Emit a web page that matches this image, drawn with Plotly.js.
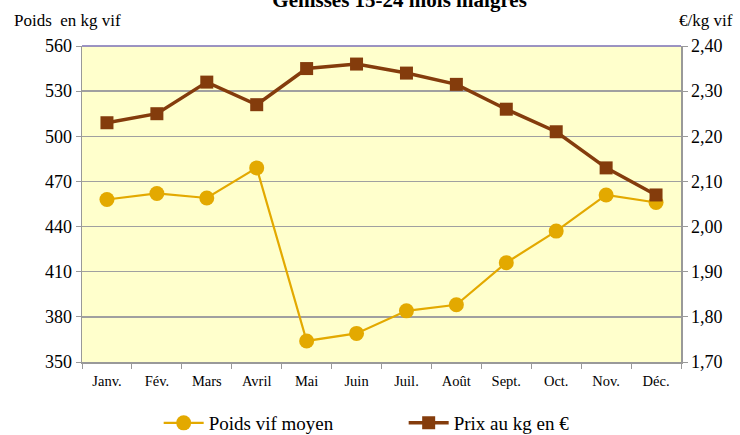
<!DOCTYPE html>
<html><head><meta charset="utf-8">
<script src="https://cdn.plot.ly/plotly-3.0.1.min.js"></script>
<style>body{margin:0;padding:0;background:#fff}#chart{width:740px;height:435px}</style>
</head><body><div id="chart"></div>
<script>
const months = ["Janv.","Fév.","Mars","Avril","Mai","Juin","Juil.","Août","Sept.","Oct.","Nov.","Déc."];
const poids = [458,462,459,479,364,369,384,388,416,437,461,456];
const prix = [2.23,2.25,2.32,2.27,2.35,2.36,2.34,2.315,2.26,2.21,2.13,2.07];
const poidsTicks = [350,380,410,440,470,500,530,560];
const prixTicks = [1.70,1.80,1.90,2.00,2.10,2.20,2.30,2.40];

const serif = "Liberation Serif";
const traces = [
 {x: months, y: poids, name: "Poids vif moyen", type: "scatter", mode: "lines+markers",
  line: {color: "#E3A900", width: 2.2}, marker: {symbol: "circle", size: 15, color: "#E3A900"}, yaxis: "y"},
 {x: months, y: prix, name: "Prix au kg en €", type: "scatter", mode: "lines+markers",
  line: {color: "#843C0C", width: 3.5}, marker: {symbol: "square", size: 13, color: "#843C0C"}, yaxis: "y2"}
];
const layout = {
 width: 740, height: 435,
 margin: {l: 82, r: 59, t: 46, b: 73, autoexpand: false},
 paper_bgcolor: "#ffffff", plot_bgcolor: "#FFFFCC",
 separators: ", ",
 font: {family: serif, color: "#000", size: 15},
 title: {text: "<b>Génisses 15-24 mois maigres</b>", font: {family: serif, size: 21, color: "#000"},
   x: 0.54, xanchor: "center", y: 1.0, yref: "container", yanchor: "middle", automargin: false},
 showlegend: true,
 legend: {orientation: "h", x: 0.128, xanchor: "left", y: -0.193, yanchor: "middle",
   font: {family: serif, size: 19, color: "#000"}, entrywidth: 190, itemwidth: 40},
 xaxis: {type: "category", tickson: "boundaries", ticks: "outside", ticklen: 5, tickcolor: "#999",
   showline: true, linecolor: "#999", linewidth: 1.5, showgrid: false, zeroline: false, automargin: false,
   ticklabelstandoff: 5,
   tickfont: {family: serif, size: 14.5, color: "#000"}, range: [-0.5, 11.5], fixedrange: true},
 yaxis: {range: [350, 560], tickvals: poidsTicks, ticks: "outside", ticklen: 5, tickcolor: "#999",
   showline: true, linecolor: "#999", linewidth: 1.5, showgrid: true, gridcolor: "#A0A0A0", gridwidth: 1.3,
   zeroline: false, automargin: false, tickfont: {family: serif, size: 18, color: "#000"}},
 yaxis2: {range: [1.70, 2.40], tickvals: prixTicks, tickformat: ".2f", overlaying: "y", side: "right",
   ticks: "outside", ticklen: 5, tickcolor: "#999", showline: true, linecolor: "#999", linewidth: 1.5,
   showgrid: false, zeroline: false, automargin: false, tickfont: {family: serif, size: 18, color: "#000"}},
 shapes: [{type: "line", xref: "paper", yref: "paper", x0: 0, x1: 1, y0: 1, y1: 1,
   line: {color: "#7A6FB5", width: 1.5}}],
 annotations: [
  {text: "Poids  en kg vif", xref: "paper", yref: "paper", x: -0.117, y: 1.082, xanchor: "left", yanchor: "middle",
   showarrow: false, font: {family: serif, size: 17, color: "#000"}},
  {text: "€/kg vif", xref: "paper", yref: "paper", x: 1.09, y: 1.082, xanchor: "right", yanchor: "middle",
   showarrow: false, font: {family: serif, size: 17, color: "#000"}}
 ]
};
Plotly.newPlot("chart", traces, layout, {displayModeBar: false, staticPlot: true});
</script></body></html>
